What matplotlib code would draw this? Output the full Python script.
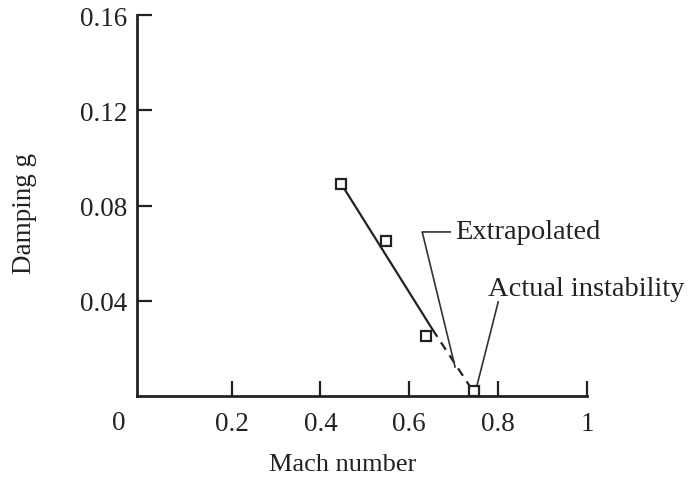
import matplotlib
matplotlib.use("Agg")
import matplotlib.pyplot as plt

# measured damping points
mach = [0.447, 0.547, 0.637, 0.745]
damping = [0.089, 0.065, 0.025, 0.002]

# fitted trend (solid) and its extrapolation (dashed)
fit_mach = [0.447, 0.652]
fit_damping = [0.089, 0.028]
extrap_mach = [0.652, 0.74]
extrap_damping = [0.028, 0.003]

# leader lines for the callouts
extrap_leader_x = [0.692, 0.629, 0.703]
extrap_leader_y = [0.0689, 0.0689, 0.0122]
actual_leader_x = [0.800, 0.752]
actual_leader_y = [0.0395, 0.0042]

x_ticks = [0.2, 0.4, 0.6, 0.8, 1.0]
x_tick_labels = ["0.2", "0.4", "0.6", "0.8", "1"]
y_ticks = [0.04, 0.08, 0.12, 0.16]
y_tick_labels = ["0.04", "0.08", "0.12", "0.16"]

plt.rcParams["font.family"] = ["Liberation Serif", "DejaVu Serif"]


def main():
    fig = plt.figure(figsize=(6.93, 4.85), dpi=100)
    ax = fig.add_axes([0.1977, 0.1814, 0.6494, 0.7856])

    ax.plot(fit_mach, fit_damping, color="#222222", linewidth=1.6)
    ax.plot(extrap_mach, extrap_damping, color="#222222", linewidth=1.6,
            linestyle=(0, (4, 3)))
    ax.plot(mach, damping, linestyle="none", marker="s", markersize=7.5,
            markerfacecolor="white", markeredgecolor="#222222",
            markeredgewidth=1.6, zorder=3)

    ax.plot(extrap_leader_x, extrap_leader_y, color="#333333", linewidth=1.2,
            clip_on=False)
    ax.plot(actual_leader_x, actual_leader_y, color="#333333", linewidth=1.2,
            clip_on=False)
    ax.text(0.703, 0.0689, "Extrapolated", fontsize=20.5, va="center",
            ha="left", color="#222222")
    ax.text(0.778, 0.045, "Actual instability", fontsize=20.5, va="center",
            ha="left", color="#222222", clip_on=False)

    ax.set_xlim(-0.013, 1.0)
    ax.set_ylim(0, 0.16)
    ax.set_xticks(x_ticks)
    ax.set_xticklabels(x_tick_labels)
    ax.set_yticks(y_ticks)
    ax.set_yticklabels(y_tick_labels)
    ax.tick_params(axis="both", direction="in", length=11, width=1.6,
                   labelsize=19.5, colors="#222222")
    ax.tick_params(axis="x", pad=11)
    ax.tick_params(axis="y", pad=7)

    for side in ("top", "right"):
        ax.spines[side].set_visible(False)
    for side in ("left", "bottom"):
        ax.spines[side].set_linewidth(2)
        ax.spines[side].set_color("#222222")

    # shared origin label
    ax.text(-0.055, -0.006, "0", fontsize=19.5, ha="center", va="top",
            color="#222222", clip_on=False)

    fig.text(343 / 693, 1 - 465 / 485, "Mach number", fontsize=19,
             ha="center", va="center", color="#222222")
    fig.text(25 / 693, 1 - 214 / 485, "Damping g", fontsize=19.5,
             rotation=90, ha="center", va="center", color="#222222")

    fig.savefig("out.png", dpi=100)
    plt.close(fig)


if __name__ == "__main__":
    main()
